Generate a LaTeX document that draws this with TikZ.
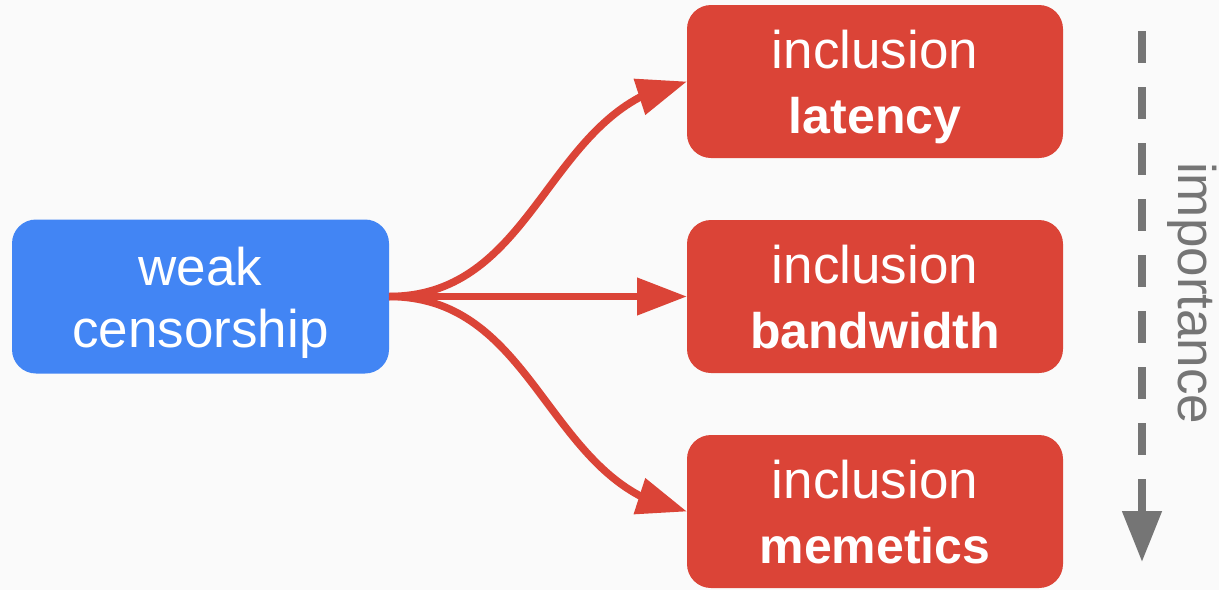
\documentclass[tikz,border=0pt]{standalone}
\usepackage{fontspec}
\setmainfont{Liberation Sans}
\usetikzlibrary{arrows.meta,bending}
\definecolor{bgc}{HTML}{FAFAFA}
\definecolor{gblue}{HTML}{4285F4}
\definecolor{gred}{HTML}{DB4437}
\definecolor{ggray}{HTML}{757575}
\tikzset{
  box/.style={rounded corners=24pt, minimum width=376pt, minimum height=153pt, inner sep=0pt, outer sep=0pt},
  bluebox/.style={box, fill=gblue},
  redbox/.style={box, fill=gred},
  txt/.style={text=white, inner sep=0pt, font=\fontsize{53}{60}\selectfont, anchor=base},
  btxt/.style={text=white, inner sep=0pt, font=\fontsize{50}{60}\selectfont\bfseries, anchor=base},
  conn/.style={draw=gred, line width=7.5pt, -{Triangle[length=50pt,width=36pt]}},
  imp/.style={draw=ggray, line width=8pt, dash pattern=on 32pt off 24pt, -{Triangle[length=51pt,width=38pt]}},
}
\begin{document}
\begin{tikzpicture}[x=1pt,y=-1pt]
\useasboundingbox (0,0) rectangle (1219,590);
\fill[bgc] (0,0) rectangle (1219,590);
% boxes
\node[bluebox, minimum width=377pt, minimum height=154pt] (w) at (200.5,296.5) {};
\node[redbox] (lat) at (875,81.5) {};
\node[redbox] (bw) at (875,296.5) {};
\node[redbox] (mem) at (875,511.5) {};
% texts
\node[txt] (w1) at (200.5,285) {weak};
\node[txt] (w2) at (200.5,347) {censorship};
\node[txt] (l1) at (875,68) {inclusion};
\node[btxt] (l2) at (875,133) {latency};
\node[txt] (b1) at (875,283) {inclusion};
\node[btxt] (b2) at (875,348) {bandwidth};
\node[txt] (m1) at (875,498) {inclusion};
\node[btxt] (m2) at (875,563) {memetics};
% connectors
\draw[conn] (w.east) .. controls +(150,0) and +(-140,22) .. (lat.west);
\draw[conn] (w.east) -- (bw.west);
\draw[conn] (w.east) .. controls +(150,0) and +(-140,-22) .. (mem.west);
% importance
\coordinate (i1) at (1142,31);
\coordinate (i2) at (1142,562);
\draw[imp] (i1) -- (i2);
\node[text=ggray, inner sep=0pt, rotate=-90, anchor=base west, font=\fontsize{53}{60}\selectfont] (imptxt) at (1178,162) {importance};
\end{tikzpicture}
\end{document}
